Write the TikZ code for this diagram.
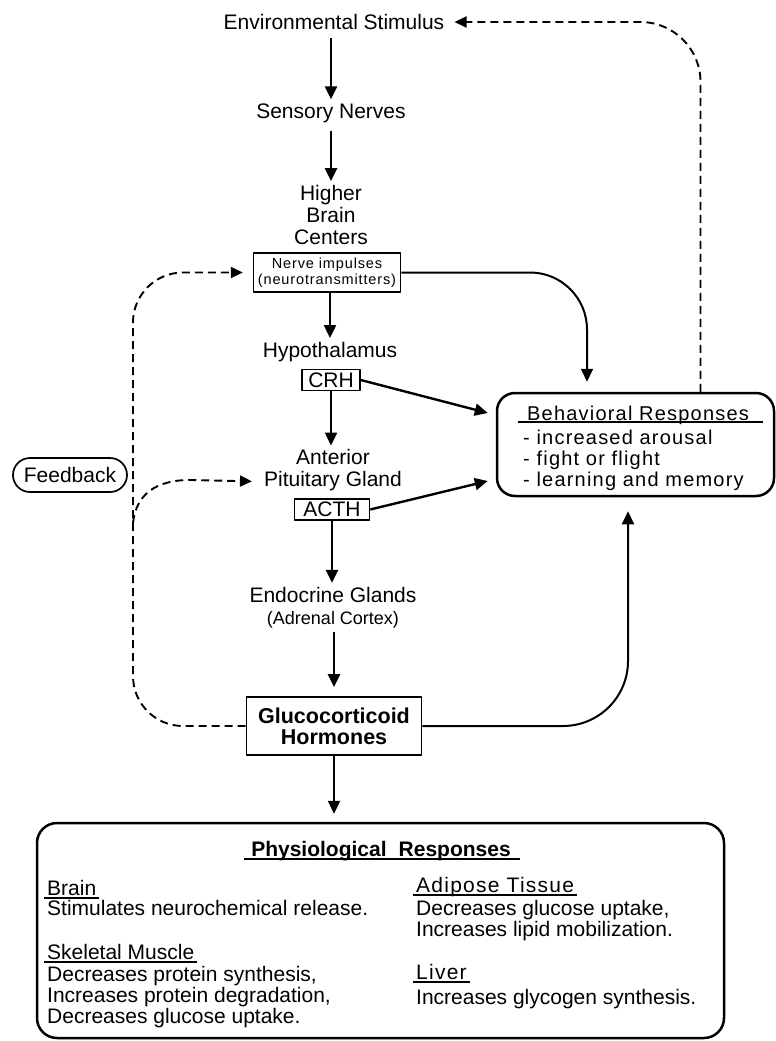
\documentclass[tikz,border=0pt]{standalone}
\usepackage{fontspec}
\setmainfont{Liberation Sans}
\newfontfamily\lsp[LetterSpace=6]{Liberation Sans}
\usetikzlibrary{arrows.meta,calc}
\newcommand\fs[2]{\fontsize{#1}{#2}\selectfont}
\begin{document}
\begin{tikzpicture}[x=1pt,y=-1pt,line join=round,
  txt/.style={inner sep=4pt, font=\fs{21}{22}, align=center},
  arr/.style={line width=2.4pt, -{Triangle[length=13pt,width=12pt]}},
  darr/.style={line width=1.9pt, dash pattern=on 8pt off 5pt, -{Triangle[length=12pt,width=11pt]}},
  sbox/.style={draw, line width=1.5pt, inner sep=0pt},
  ptxt/.style={inner sep=0pt, anchor=base west, font=\fs{21}{22}},
  phead/.style={inner sep=0pt, anchor=base west, font=\lsp\fs{21}{22}},
  btxt/.style={inner sep=0pt, anchor=base west, font=\lsp\fs{20}{21}},
  ul/.style={line width=1.4pt}]
\fill[white] (0,0) rectangle (776,1041);
\useasboundingbox (0,0) rectangle (776,1041);

% main column
\node[txt] (env) at (334,22) {Environmental Stimulus};
\node[txt] (sens) at (331,113) {Sensory Nerves};
\node[txt] (hbc) at (331,215) {Higher\\Brain\\Centers};
\node[sbox, minimum width=147pt, minimum height=39pt, align=center, font=\lsp\fs{14.5}{15.5}] (nerve) at (327,272.5) {Nerve impulses\\(neurotransmitters)};
\node[txt] (hyp) at (330,352) {Hypothalamus};
\node[sbox, minimum width=58pt, minimum height=21pt, font=\fs{21}{22}] (crh) at (331,380) {CRH};
\node[txt] (ant) at (333,470.5) {Anterior\\Pituitary Gland};
\node[sbox, minimum width=75pt, minimum height=21pt, font=\fs{21}{22}] (acth) at (332,509.5) {ACTH};
\node[txt] (endo) at (333,607.5) {Endocrine Glands\\{\fs{18}{21}(Adrenal Cortex)}};
\node[draw, line width=1.8pt, minimum width=175pt, minimum height=58pt, align=center, inner sep=0pt, font=\bfseries\fs{21.5}{21}] (gluco) at (334,726) {Glucocorticoid\\Hormones};
\node[draw, line width=1.7pt, rounded corners=17pt, minimum width=114pt, minimum height=34pt, inner sep=0pt, font=\fs{21}{22}] (fb) at (70,475) {Feedback};

% behavioral responses
\node[draw, line width=2.5pt, rounded corners=18pt, minimum width=277pt, minimum height=103pt] (beh) at (635.5,444.5) {};
\node[btxt] (bt) at (527,420) {Behavioral Responses};
\node[btxt] (b1) at (523,444) {- increased arousal};
\node[btxt] (b2) at (523,465) {- fight or flight};
\node[btxt] (b3) at (523,486) {- learning and memory};
\draw[ul] ([xshift=-9pt,yshift=-2pt]bt.base west) -- ([xshift=14pt,yshift=-2pt]bt.base east);

% physiological responses
\node[draw, line width=2.5pt, rounded corners=20pt, minimum width=687pt, minimum height=215pt] (phys) at (380.5,930.5) {};
\node[inner sep=0pt, anchor=base, font=\bfseries\fs{21}{22}] (pt) at (381,856) {Physiological\hspace{12pt}Responses};
\draw[ul] ([xshift=-7pt,yshift=-3pt]pt.base west) -- ([xshift=9pt,yshift=-3pt]pt.base east);
\node[ptxt] (brain) at (47,895) {Brain};
\node[ptxt] (brain1) at (47,915) {Stimulates neurochemical release.};
\node[ptxt] (skm) at (47,959) {Skeletal Muscle};
\node[ptxt] (skm1) at (47,981) {Decreases protein synthesis,};
\node[ptxt] (skm2) at (47,1002) {Increases protein degradation,};
\node[ptxt] (skm3) at (47,1023) {Decreases glucose uptake.};
\node[phead] (adi) at (416,892) {Adipose Tissue};
\node[ptxt] (adi1) at (416,915) {Decreases glucose uptake,};
\node[ptxt] (adi2) at (416,936) {Increases lipid mobilization.};
\node[phead] (liv) at (416,979) {Liver};
\node[ptxt] (liv1) at (416,1004) {Increases glycogen synthesis.};
\foreach \n in {brain,skm,adi,liv}
  \draw[ul] ([xshift=-3pt,yshift=-3pt]\n.base west) -- ([xshift=3pt,yshift=-3pt]\n.base east);

% vertical chain
\draw[arr, shorten <=4pt] (env.south -| sens.north) -- (sens.north);
\draw[arr, shorten <=4pt] (sens.south) -- (sens.south |- hbc.north);
\draw[arr] (hyp.north |- nerve.south) -- (hyp.north);
\draw[arr] (crh.south) -- (crh.south |- ant.north);
\draw[arr] (acth.south) -- (acth.south |- endo.north);
\draw[arr, shorten >=9pt] (endo.south -| gluco.north) -- (gluco.north);
\draw[arr, shorten >=8pt] (gluco.south) -- (gluco.south |- phys.north);

% to behavioral responses
\draw[arr, line width=2pt, rounded corners=57pt, shorten >=10pt] (nerve.east) -| ([xshift=-48.5pt]beh.north);
\draw[arr] (crh.east) -- ([xshift=-8pt,yshift=31.5pt]beh.west);
\draw[arr] (acth.east) -- ([xshift=-8pt,yshift=-36.5pt]beh.west);
\draw[arr, line width=2pt, rounded corners=65pt, shorten >=14pt] (gluco.east) -| ([xshift=-7.5pt]beh.south);

% dashed feedback to environment
\draw[darr, rounded corners=60pt, shorten >=6pt] ([xshift=65pt]beh.north) |- (env.east);

% feedback loop
\coordinate (fbx) at (133,500);
\coordinate (fbb) at (133,523);
\draw[darr, rounded corners=50pt, shorten >=10pt] (gluco.west) -| (fbx) |- (nerve.west);
\draw[darr, shorten >=8pt] (fbb) .. controls (136,495) and (155,480) .. (190,480) -- ([yshift=-11pt]ant.west);
\end{tikzpicture}
\end{document}
